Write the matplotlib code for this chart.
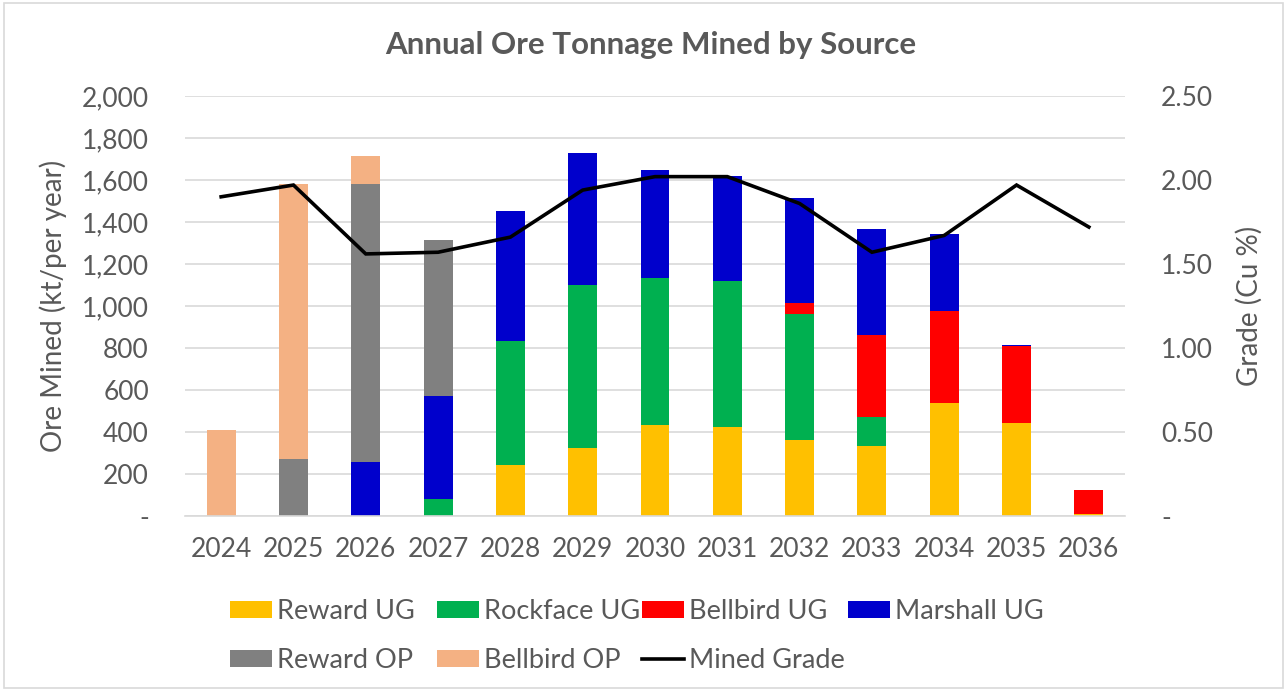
import numpy as np
import matplotlib
matplotlib.use('Agg')
import matplotlib.pyplot as plt
from matplotlib.patches import Rectangle
from matplotlib.ticker import FuncFormatter, MultipleLocator

plt.rcParams['font.family'] = ['Lato', 'DejaVu Sans']

years = ['2024', '2025', '2026', '2027', '2028', '2029', '2030',
         '2031', '2032', '2033', '2034', '2035', '2036']

# ore tonnes mined by source (kt)
reward_ug   = [0, 0, 0, 0, 245, 325, 435, 425, 362, 333, 538, 443, 8]
rockface_ug = [0, 0, 0, 80, 590, 775, 697, 694, 598, 137, 0, 0, 0]
bellbird_ug = [0, 0, 0, 0, 0, 0, 0, 0, 54, 392, 438, 368, 116]
marshall_ug = [0, 0, 255, 490, 615, 629, 514, 499, 502, 503, 368, 5, 0]
reward_op   = [0, 270, 1325, 745, 0, 0, 0, 0, 0, 0, 0, 0, 0]
bellbird_op = [410, 1310, 135, 0, 0, 0, 0, 0, 0, 0, 0, 0, 0]

# mined grade (Cu %)
mined_grade = [1.90, 1.97, 1.56, 1.57, 1.66, 1.94, 2.02, 2.02, 1.86, 1.57, 1.67, 1.97, 1.72]

series = [
    ('Reward UG', reward_ug, '#FFC000'),
    ('Rockface UG', rockface_ug, '#00B050'),
    ('Bellbird UG', bellbird_ug, '#FF0000'),
    ('Marshall UG', marshall_ug, '#0000CC'),
    ('Reward OP', reward_op, '#808080'),
    ('Bellbird OP', bellbird_op, '#F4B183'),
]

txt = '#595959'
grid = '#D9D9D9'
tick_fs = 19

fig = plt.figure(figsize=(12.87, 6.91), dpi=100)
ax = fig.add_axes([185/1287, 1-516/691, 940/1287, 420/691])
x = np.arange(len(years))

bottom = np.zeros(len(years))
handles = {}
for name, vals, col in series:
    b = ax.bar(x, vals, 0.4, bottom=bottom, color=col, label=name, zorder=2)
    handles[name] = b
    bottom += np.array(vals)

ax.set_xlim(-0.5, len(years) - 0.5)
ax.set_ylim(0, 2000)
ax.yaxis.set_major_locator(MultipleLocator(200))
ax.yaxis.set_major_formatter(FuncFormatter(lambda v, p: '-' if v == 0 else f'{v:,.0f}'))
ax.grid(axis='y', color=grid, linewidth=1.2, zorder=0)
ax.set_axisbelow(True)
for s in ['top', 'right', 'left']:
    ax.spines[s].set_visible(False)
ax.spines['bottom'].set_color(grid)
ax.spines['bottom'].set_linewidth(1.2)
ax.set_xticks(x)
ax.set_xticklabels(years)
ax.tick_params(axis='x', length=0, pad=15, labelsize=tick_fs, labelcolor=txt)
ax.tick_params(axis='y', length=0, pad=26, labelsize=tick_fs, labelcolor=txt)
ax.set_ylabel('Ore Mined (kt/per year)', fontsize=20, color=txt)
ax.yaxis.set_label_coords(-0.125, 0.5)

ax2 = ax.twinx()
ax2.set_ylim(0, 2.5)
ax2.yaxis.set_major_locator(MultipleLocator(0.5))
ax2.yaxis.set_major_formatter(FuncFormatter(lambda v, p: '-' if v == 0 else f'{v:.2f}'))
for s in ['top', 'right', 'left', 'bottom']:
    ax2.spines[s].set_visible(False)
ax2.tick_params(axis='y', length=0, pad=26, labelsize=tick_fs, labelcolor=txt)
line, = ax2.plot(x, mined_grade, color='black', linewidth=2.6, label='Mined Grade',
                 solid_joinstyle='miter', zorder=3)
ax2.set_ylabel('Grade (Cu %)', fontsize=20, color=txt, rotation=90)
ax2.yaxis.set_label_coords(1.118, 0.5)

fig.text(0.506, 0.935, 'Annual Ore Tonnage Mined by Source', ha='center', va='center',
         fontsize=22.5, fontweight='bold', color=txt)

# legend: Excel lays it out in equal-width columns, so one small legend per column
columns = [
    ([handles['Reward UG'], handles['Reward OP']], ['Reward UG', 'Reward OP'], 230),
    ([handles['Rockface UG'], handles['Bellbird OP']], ['Rockface UG', 'Bellbird OP'], 437),
    ([handles['Bellbird UG'], line], ['Bellbird UG', 'Mined Grade'], 642),
    ([handles['Marshall UG']], ['Marshall UG'], 848),
]
for hs, ls, xpos in columns:
    leg = fig.legend(hs, ls, loc='upper left',
                     bbox_to_anchor=(xpos/1287, 1-599/691), frameon=False,
                     fontsize=19.5, handlelength=1.55, handleheight=0.6,
                     handletextpad=0.2, labelspacing=0.9,
                     borderaxespad=0, borderpad=0)
    for t in leg.get_texts():
        t.set_color(txt)

fig.patches.append(Rectangle((0.003, 0.004), 0.994, 0.992, transform=fig.transFigure,
                             fill=False, edgecolor=grid, linewidth=1.2))

fig.savefig('out.png', dpi=100)
